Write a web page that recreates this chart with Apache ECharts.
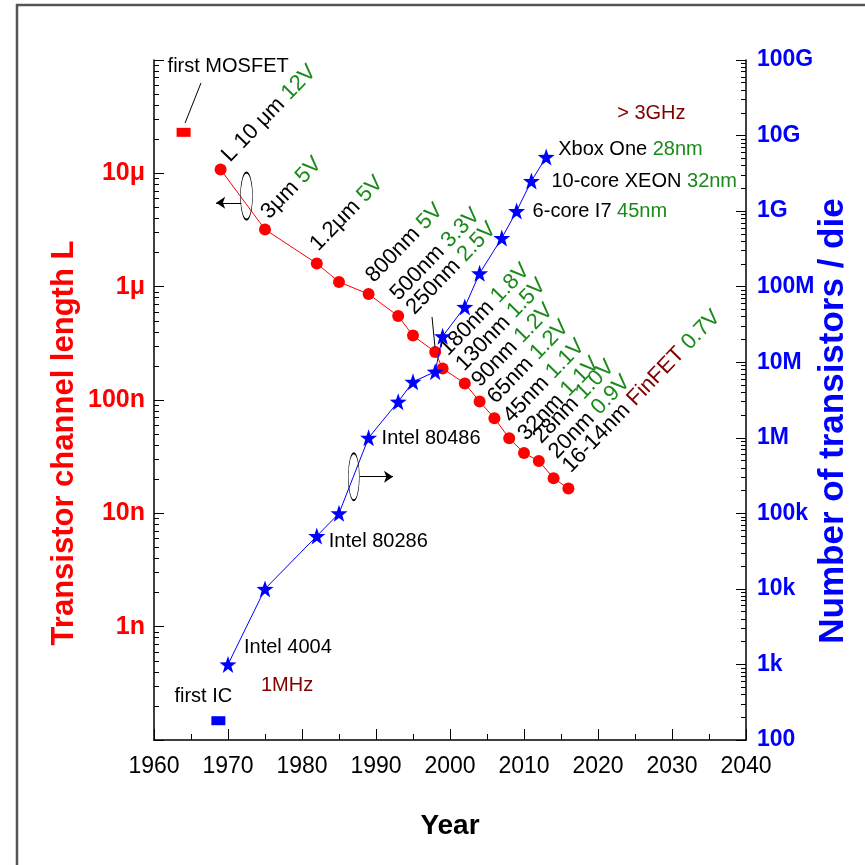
<!DOCTYPE html>
<html><head><meta charset="utf-8">
<script src="https://cdn.jsdelivr.net/npm/echarts@6/dist/echarts.min.js"></script>
<style>html,body{margin:0;padding:0;background:#fff;overflow:hidden}#c{width:865px;height:865px}</style>
</head><body><div id="c"></div>
<script>
// ---- data ----
const lengthYears = [1969, 1975, 1982, 1985, 1989, 1993, 1995, 1998, 1999, 2002, 2004, 2006, 2008, 2010, 2012, 2014, 2016];
const lengthValues = [1.08e-5, 3.2e-6, 1.6e-6, 1.1e-6, 8.6e-7, 5.5e-7, 3.7e-7, 2.65e-7, 1.9e-7, 1.4e-7, 9.7e-8, 6.9e-8, 4.6e-8, 3.4e-8, 2.9e-8, 2.04e-8, 1.66e-8];
const lengthNames = ['L 10 μm', '3μm', '1.2μm', '', '800nm', '500nm', '', '250nm', '180nm', '130nm', '90nm', '65nm', '45nm', '32nm', '28nm', '20nm', '16-14nm'];
const lengthVolts = ['12V', '5V', '5V', '', '5V', '3.3V', '', '2.5V', '1.8V', '1.5V', '1.2V', '1.2V', '1.1V', '1.1V', '1.0V', '0.9V', ''];
const lengthExtra = ['', '', '', '', '', '', '', '', '', '', '', '', '', '', '', '', 'FinFET 0.7V'];

const transYears = [1970, 1975, 1982, 1985, 1989, 1993, 1995, 1998, 1999, 2002, 2004, 2007, 2009, 2011, 2013];
const transValues = [1000, 1e4, 5e4, 1e5, 1e6, 3e6, 5.5e6, 7.5e6, 2.2e7, 5.4e7, 1.5e8, 4.4e8, 1e9, 2.5e9, 5.2e9];
const transNames = ['Intel 4004', '', 'Intel 80286', '', 'Intel 80486', '', '', '', '', '', '', '', '6-core I7', '10-core XEON', 'Xbox One'];
const transNodes = ['', '', '', '', '', '', '', '', '', '', '', '', '45nm', '32nm', '28nm'];
const transClock = ['1MHz', '', '', '', '', '', '', '', '', '', '', '', '', '', '> 3GHz'];

const firstMosfet = [1964, 2.3e-5];
const firstIC = [1968.7, 180];

const xTicks = [1960, 1970, 1980, 1990, 2000, 2010, 2020, 2030, 2040];
const leftTickExp = [-9, -8, -7, -6, -5];
const leftTickText = ['1n', '10n', '100n', '1μ', '10μ'];
const rightTickExp = [2, 3, 4, 5, 6, 7, 8, 9, 10, 11];
const rightTickText = ['100', '1k', '10k', '100k', '1M', '10M', '100M', '1G', '10G', '100G'];

// ---- layout / style (not data) ----
const SANS = "'Liberation Sans',Arial,sans-serif";
const GREEN = '#1a8a1a', DARKRED = '#800000';
const redShift = [[5,-11],[0,-14],[-3,-16],null,[1,-15],[-4,-19],null,[-25,-41],[1,-16],[-5,-16],[-4,-18],[-3,-18],[-2,-19],[-2,-16],[-2,-21],[-1,-23],[-2,-19]];
const blueShift = {0:[16,2], 2:[12,5], 4:[13,1], 12:[16,0], 13:[20,0], 14:[12,-25]};
const DOT = 12, STAR = 17;
const starPath = 'path://M0,-10 L2.35,-3.24 9.51,-3.09 3.8,1.24 5.88,8.09 0,4 -5.88,8.09 -3.8,1.24 -9.51,-3.09 -2.35,-3.24 Z';

const redData = lengthYears.map((yr, i) => {
  const item = { value: [yr, lengthValues[i]] };
  if (lengthNames[i]) {
    let txt = '{n|' + lengthNames[i] + '}';
    if (lengthVolts[i]) txt += ' {v|' + lengthVolts[i] + '}';
    if (lengthExtra[i]) { const p = lengthExtra[i].split(' '); txt += ' {f|' + p[0] + '} {v|' + p[1] + '}'; }
    const s = redShift[i];
    item.label = { show: true, formatter: txt, rotate: 46, align: 'left', verticalAlign: 'middle',
      position: [DOT / 2 + s[0], DOT / 2 + s[1]] };
  }
  return item;
});

const blueData = transYears.map((yr, i) => {
  const item = { value: [yr, transValues[i]] };
  if (transNames[i]) {
    let txt = '{n|' + transNames[i] + '}';
    if (transNodes[i]) txt += ' {v|' + transNodes[i] + '}';
    if (transClock[i]) {
      if (i === 0) txt = txt + '\n{c|' + transClock[i] + '}';
      else txt = '{g|' + transClock[i] + '}\n' + txt;
    }
    const s = blueShift[i];
    item.label = { show: true, formatter: txt, align: 'left', verticalAlign: 'middle',
      position: [STAR / 2 + s[0], STAR / 2 + s[1]] };
  }
  return item;
});

const tickStyle = { color: '#000' };
const chart = echarts.init(document.getElementById('c'), null, { renderer: 'canvas' });
chart.setOption({
  animation: false,
  backgroundColor: '#fff',
  graphic: [{ type: 'rect', shape: { x: 17, y: 5, width: 900, height: 900 }, style: { fill: 'none', stroke: '#555', lineWidth: 2.5 }, z: -10 }],
  grid: { left: 154, right: 119, top: 60, bottom: 125, containLabel: false, outerBoundsMode: 'none' },
  xAxis: {
    type: 'value', min: 1960, max: 2040, interval: 10,
    name: 'Year', nameLocation: 'middle', nameGap: 72, nameMoveOverlap: false,
    nameTextStyle: { color: '#000', fontSize: 28, fontWeight: 'bold', fontFamily: SANS },
    axisLine: { show: true, lineStyle: { color: '#000', width: 1.5 } },
    axisTick: { show: true, inside: true, length: 11, lineStyle: tickStyle },
    minorTick: { show: true, splitNumber: 2, length: 6, lineStyle: tickStyle },
    splitLine: { show: false },
    axisLabel: { color: '#000', fontSize: 23, fontFamily: SANS, margin: 15,
      formatter: v => (xTicks.indexOf(Math.round(v)) >= 0 ? String(Math.round(v)) : '') }
  },
  yAxis: [{
    type: 'log', logBase: 10, min: 1e-10, max: 1e-4, position: 'left',
    name: 'Transistor channel length L', nameLocation: 'middle', nameRotate: 90, nameGap: 74, nameMoveOverlap: false,
    nameTextStyle: { color: '#ff0000', fontSize: 31, fontWeight: 'bold', fontFamily: SANS, padding: [0, 86, 0, 0] },
    axisLine: { show: true, lineStyle: { color: '#000', width: 1.5 } },
    axisTick: { show: true, inside: true, length: 10, lineStyle: tickStyle },
    minorTick: { show: true, splitNumber: 9, length: 5, lineStyle: tickStyle },
    splitLine: { show: false },
    axisLabel: { color: '#ff0000', fontSize: 25, fontWeight: 'bold', fontFamily: SANS, margin: 9,
      formatter: v => { const k = leftTickExp.indexOf(Math.round(Math.log10(v))); return k >= 0 ? leftTickText[k] : ''; } }
  }, {
    type: 'log', logBase: 10, min: 100, max: 1e11, position: 'right',
    name: 'Number of transistors / die', nameLocation: 'middle', nameRotate: 90, nameGap: 70, nameMoveOverlap: false,
    nameTextStyle: { color: '#0000ff', fontSize: 35, fontWeight: 'bold', fontFamily: SANS, padding: [0, 42, 0, 0] },
    axisLine: { show: true, lineStyle: { color: '#000', width: 1.5 } },
    axisTick: { show: true, inside: true, length: 10, lineStyle: tickStyle },
    minorTick: { show: true, splitNumber: 9, length: 5, lineStyle: tickStyle },
    splitLine: { show: false },
    axisLabel: { color: '#0000ff', fontSize: 23, fontWeight: 'bold', fontFamily: SANS, margin: 11,
      formatter: v => { const k = rightTickExp.indexOf(Math.round(Math.log10(v))); return k >= 0 ? rightTickText[k] : ''; } }
  }],
  series: [{
    name: 'L', type: 'line', yAxisIndex: 0, data: redData,
    symbol: 'circle', symbolSize: DOT, itemStyle: { color: '#ff0000', opacity: 1 },
    lineStyle: { color: '#ff0000', width: 1 },
    label: { show: false, fontFamily: SANS, fontSize: 22,
      rich: { n: { color: '#000', fontSize: 22, fontFamily: SANS }, v: { color: GREEN, fontSize: 22, fontFamily: SANS }, f: { color: DARKRED, fontSize: 22, fontFamily: SANS } } },
    markPoint: { silent: true, label: { show: false }, data: [
      { coord: [1972.5, 6.3e-6], symbol: 'circle', symbolSize: [12, 47], itemStyle: { color: 'rgba(0,0,0,0)', borderColor: '#000', borderWidth: 1 } }
    ] },
    markLine: { silent: true, label: { show: false }, symbol: ['none', 'arrow'], symbolSize: 9,
      lineStyle: { color: '#000', type: 'solid', width: 1 }, data: [
      [{ coord: [1971.8, 5.5e-6] }, { coord: [1968.4, 5.5e-6] }],
      [{ coord: [1997.57, 5.4e-7], symbol: 'none' }, { coord: [1997.97, 2.93e-7], symbol: 'none' }]
    ] },
    z: 3
  }, {
    name: 'N', type: 'line', yAxisIndex: 1, data: blueData,
    symbol: starPath, symbolSize: STAR, itemStyle: { color: '#0000ff', opacity: 1 },
    lineStyle: { color: '#0000ff', width: 1 },
    label: { show: false, fontFamily: SANS, fontSize: 20,
      rich: { n: { color: '#000', fontSize: 20, fontFamily: SANS, lineHeight: 38 }, v: { color: GREEN, fontSize: 20, fontFamily: SANS, lineHeight: 38 },
        c: { color: DARKRED, fontSize: 20, fontFamily: SANS, lineHeight: 38, padding: [0, 0, 0, 17] },
        g: { color: DARKRED, fontSize: 20, fontFamily: SANS, lineHeight: 34, padding: [0, 0, 0, 59] } } },
    markPoint: { silent: true, label: { show: false }, data: [
      { coord: [1987, 3.05e5], symbol: 'circle', symbolSize: [11, 47], itemStyle: { color: 'rgba(0,0,0,0)', borderColor: '#000', borderWidth: 1 } }
    ] },
    markLine: { silent: true, label: { show: false }, symbol: ['none', 'arrow'], symbolSize: 9,
      lineStyle: { color: '#000', type: 'solid', width: 1 }, data: [
      [{ coord: [1987.8, 3.05e5] }, { coord: [1992.3, 3.05e5] }]
    ] },
    z: 4
  }, {
    name: 'first MOSFET', type: 'scatter', yAxisIndex: 0, data: [firstMosfet],
    symbol: 'rect', symbolSize: [14, 9], itemStyle: { color: '#ff0000', opacity: 1 },
    label: { show: true, formatter: 'first MOSFET', color: '#000', fontSize: 20, fontFamily: SANS,
      align: 'left', verticalAlign: 'middle', position: [-9, -61.5] },
    markLine: { silent: true, label: { show: false }, symbol: ['none', 'none'],
      lineStyle: { color: '#000', type: 'solid', width: 1 }, data: [
      [{ coord: [1966.35, 6.27e-5] }, { coord: [1964.2, 2.78e-5] }]
    ] }
  }, {
    name: 'first IC', type: 'scatter', yAxisIndex: 1, data: [firstIC],
    symbol: 'rect', symbolSize: [14, 9], itemStyle: { color: '#0000ff', opacity: 1 },
    label: { show: true, formatter: 'first IC', color: '#000', fontSize: 20, fontFamily: SANS,
      align: 'left', verticalAlign: 'middle', position: [7 - 44, 4.5 - 24] }
  }]
});
</script></body></html>
